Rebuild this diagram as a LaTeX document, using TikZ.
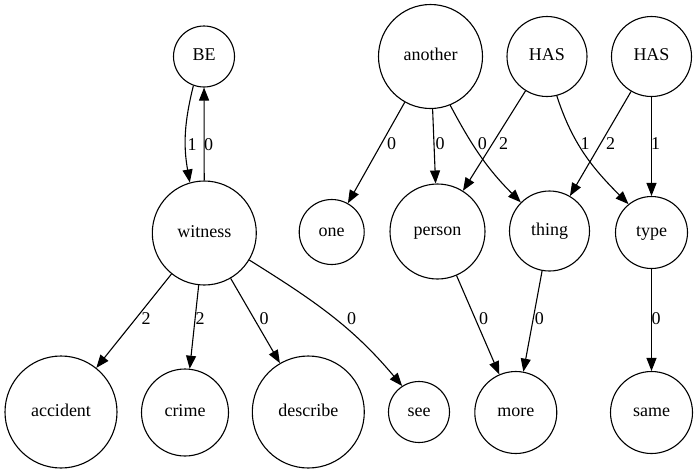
\documentclass[tikz,border=0pt]{standalone}
\usepackage{fontspec}
\setmainfont{Liberation Serif}
\usetikzlibrary{arrows.meta}
\begin{document}
\begin{tikzpicture}[x=1pt,y=-1pt,
  every node/.style={font=\fontsize{18}{20}\selectfont},
  word/.style={circle,draw,line width=1.1pt,inner sep=0pt,minimum size=#1,
    text height=12pt,text depth=4pt},
  lbl/.style={inner sep=0pt},
  edge/.style={line width=1.1pt,-{Triangle[length=13pt,width=10pt]}}]
\useasboundingbox (0,0) rectangle (697,475);
% upper row
\node[word=61]  (be)      at (204,56.5)  {BE};
\node[word=104] (another) at (430.5,56.5) {another};
\node[word=80]  (has1)    at (547,56.5)  {HAS};
\node[word=80]  (has2)    at (651.5,56.5) {HAS};
% middle row
\node[word=104] (witness) at (204.3,233) {witness};
\node[word=65]  (one)     at (331.7,232) {one};
\node[word=95]  (person)  at (437.5,231.5) {person};
\node[word=80]  (thing)   at (549.5,231) {thing};
\node[word=72]  (type)    at (651.5,232.5) {type};
% lower row
\node[word=112] (accident) at (61,412)   {accident};
\node[word=87]  (crime)    at (185,412.5) {crime};
\node[word=112] (describe) at (308.3,412) {describe};
\node[word=61]  (see)      at (419,412)  {see};
\node[word=82]  (more)     at (515.8,412.5) {more};
\node[word=82]  (same)     at (651.5,412.5) {same};
% connectors
\draw[edge] (be.250) to[out=256,in=100] (witness.106);
\draw[edge] (witness) -- (be);
\draw[edge] (witness) -- (accident);
\draw[edge] (witness) -- (crime);
\draw[edge] (witness) -- (describe);
\draw[edge] (witness.-31) to[out=-32,in=130] (see.123);
\draw[edge] (another) -- (one);
\draw[edge] (another) -- (person);
\draw[edge] (another.-68) to[out=-62,in=135] (thing.135);
\draw[edge] (has1) -- (person);
\draw[edge] (has1.-76) to[out=-72,in=135] (type.129);
\draw[edge] (has2) -- (thing);
\draw[edge] (has2) -- (type);
\draw[edge] (person) -- (more);
\draw[edge] (thing) -- (more);
\draw[edge] (type) -- (same);
% connector labels
\node[lbl] (l-bew)  at (192,145)   {1};
\node[lbl] (l-wbe)  at (208.5,145) {0};
\node[lbl] (l-wacc) at (146,319)   {2};
\node[lbl] (l-wcri) at (200,319)   {2};
\node[lbl] (l-wdes) at (264,319)   {0};
\node[lbl] (l-wsee) at (351.5,319) {0};
\node[lbl] (l-aone) at (391.5,144) {0};
\node[lbl] (l-aper) at (440,144)   {0};
\node[lbl] (l-athi) at (482.3,144) {0};
\node[lbl] (l-hper) at (503.7,144) {2};
\node[lbl] (l-htyp) at (585,144)   {1};
\node[lbl] (l-hthi) at (610.7,144) {2};
\node[lbl] (l-htyp2) at (655.7,144) {1};
\node[lbl] (l-pmor) at (483.7,319) {0};
\node[lbl] (l-tmor) at (539.3,319) {0};
\node[lbl] (l-tsam) at (656,319)   {0};
\end{tikzpicture}
\end{document}
